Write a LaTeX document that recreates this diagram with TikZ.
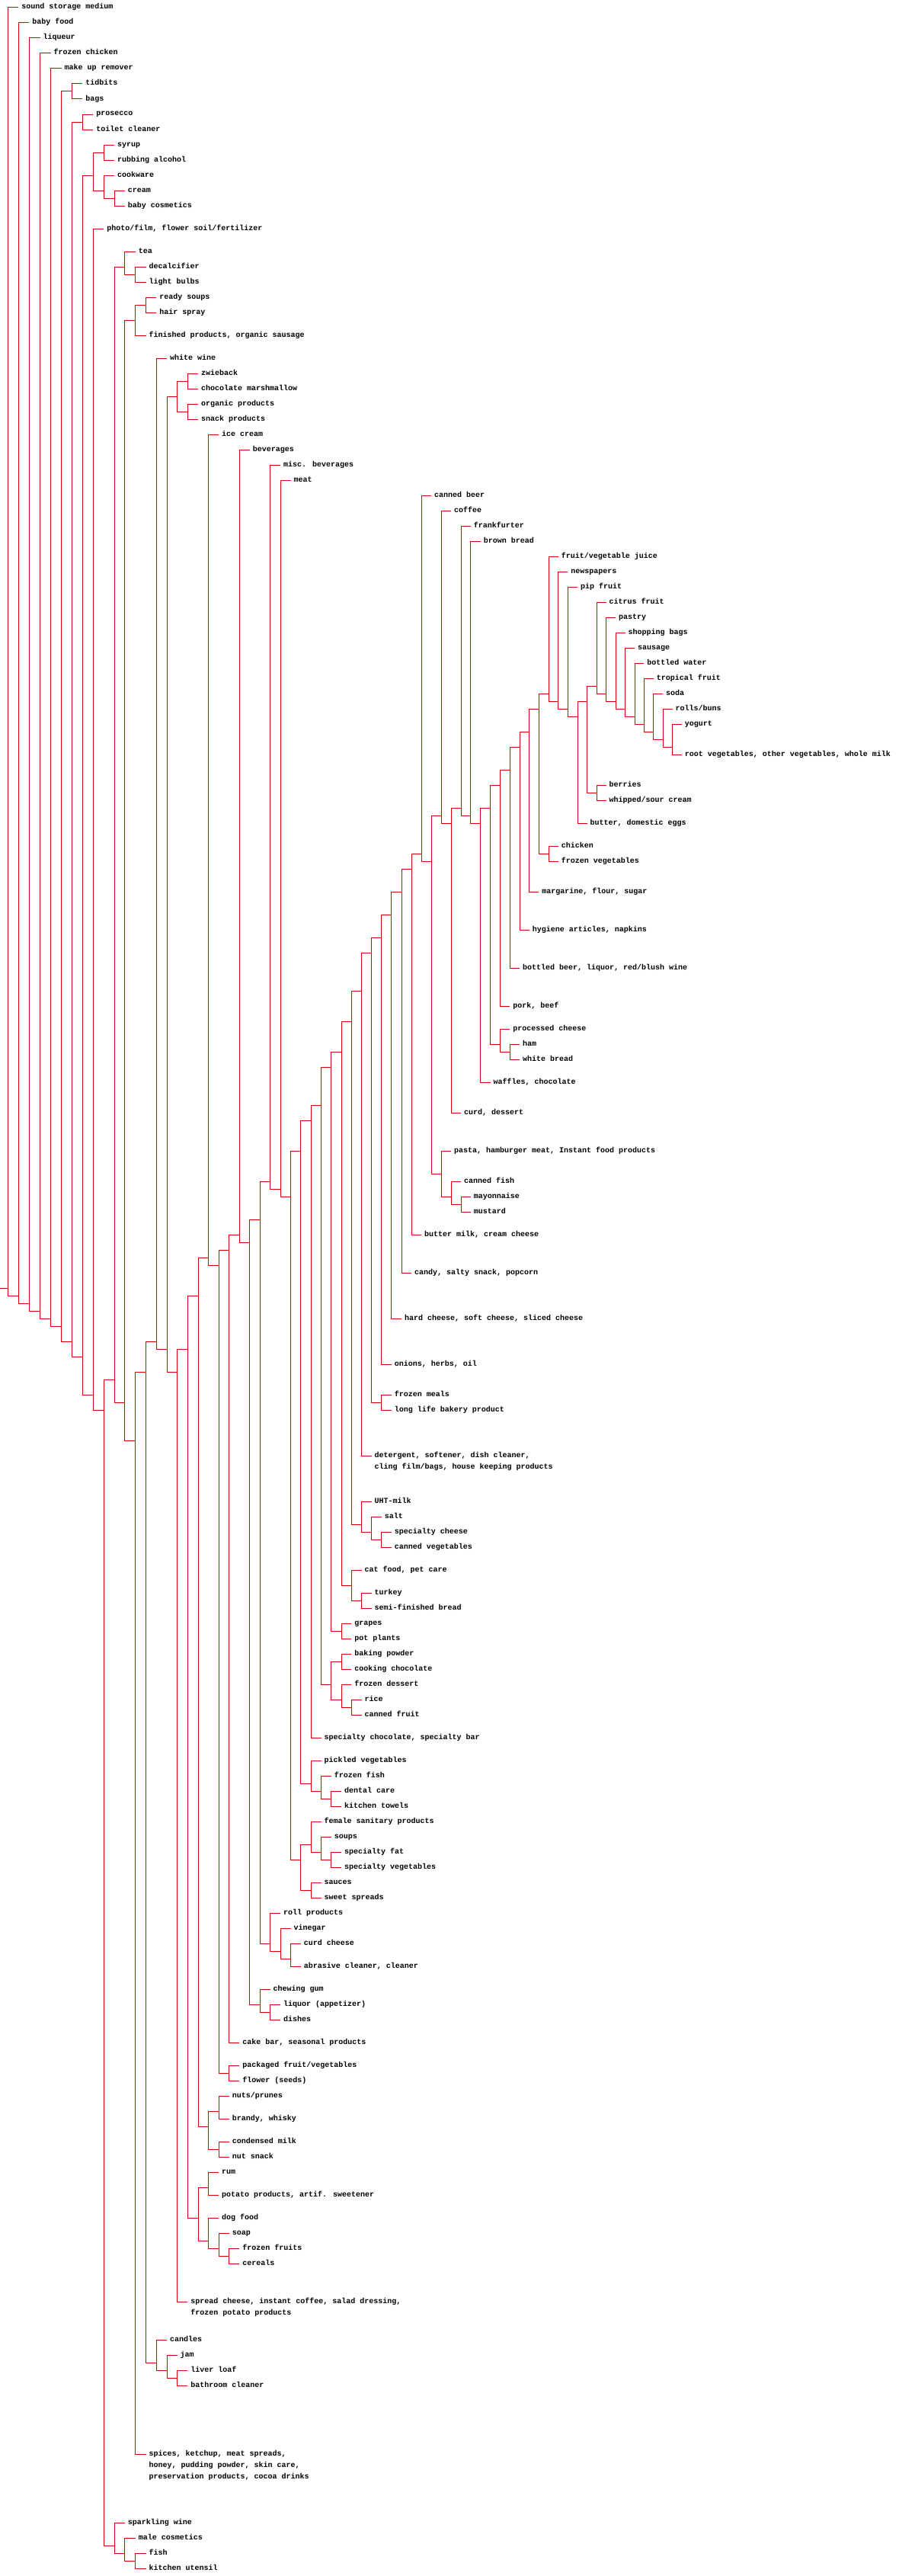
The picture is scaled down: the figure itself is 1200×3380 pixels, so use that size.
\documentclass[tikz,border=0pt]{standalone}
\usepackage{fontspec}
\newfontfamily\labfam{Liberation Mono}
\definecolor{linered}{RGB}{215,0,0}
\pgfmathdeclarefunction{dx}{1}{\pgfmathparse{10.3+14.12*#1-0.0137*#1*#1}}
\newcommand{\mkleaf}[4]{\coordinate (#1) at ({dx(#2)},-#3); \node[lab] (#1t) at ({dx(#2)+4},{-#3-2}) {#4};}
\newcommand{\mknode}[3]{\coordinate (#1) at ({dx(#2)},-#3);}
\newcommand{\mkedge}[3]{\draw[ln] (#1) |- (#2); \draw[ln] (#1) |- (#3);}
\tikzset{
  lab/.style={anchor=base west, inner sep=0pt, outer sep=0pt, text=black, font=\labfam\bfseries\fontsize{10pt}{15pt}\selectfont},
  ln/.style={draw=linered, line width=1pt}
}
\begin{document}
\begin{tikzpicture}[x=1pt,y=1pt]
\useasboundingbox (0,0) rectangle (1200,-3380);
\fill[white] (0,0) rectangle (1200,-3380);
% ---------------- leaves ----------------
\mkleaf{l1}{1}{10}{sound storage medium}
\mkleaf{l2}{2}{30}{baby food}
\mkleaf{l3}{3}{50}{liqueur}
\mkleaf{l4}{4}{70}{frozen chicken}
\mkleaf{l5}{5}{90}{make up remover}
\mkleaf{l6}{7}{110}{tidbits}
\mkleaf{l7}{7}{130}{bags}
\mkleaf{l8}{8}{150}{prosecco}
\mkleaf{l9}{8}{170}{toilet cleaner}
\mkleaf{l10}{10}{190}{syrup}
\mkleaf{l11}{10}{210}{rubbing alcohol}
\mkleaf{l12}{10}{230}{cookware}
\mkleaf{l13}{11}{250}{cream}
\mkleaf{l14}{11}{270}{baby cosmetics}
\mkleaf{l15}{9}{300}{photo/film, flower soil/fertilizer}
\mkleaf{l16}{12}{330}{tea}
\mkleaf{l17}{13}{350}{decalcifier}
\mkleaf{l18}{13}{370}{light bulbs}
\mkleaf{l19}{14}{390}{ready soups}
\mkleaf{l20}{14}{410}{hair spray}
\mkleaf{l21}{13}{440}{finished products, organic sausage}
\mkleaf{l22}{15}{470}{white wine}
\mkleaf{l23}{18}{490}{zwieback}
\mkleaf{l24}{18}{510}{chocolate marshmallow}
\mkleaf{l25}{18}{530}{organic products}
\mkleaf{l26}{18}{550}{snack products}
\mkleaf{l27}{20}{570}{ice cream}
\mkleaf{l28}{23}{590}{beverages}
\mkleaf{l29}{26}{610}{misc. beverages}
\mkleaf{l30}{27}{630}{meat}
\mkleaf{l31}{41}{650}{canned beer}
\mkleaf{l32}{43}{670}{coffee}
\mkleaf{l33}{45}{690}{frankfurter}
\mkleaf{l34}{46}{710}{brown bread}
\mkleaf{l35}{54}{730}{fruit/vegetable juice}
\mkleaf{l36}{55}{750}{newspapers}
\mkleaf{l37}{56}{770}{pip fruit}
\mkleaf{l38}{59}{790}{citrus fruit}
\mkleaf{l39}{60}{810}{pastry}
\mkleaf{l40}{61}{830}{shopping bags}
\mkleaf{l41}{62}{850}{sausage}
\mkleaf{l42}{63}{870}{bottled water}
\mkleaf{l43}{64}{890}{tropical fruit}
\mkleaf{l44}{65}{910}{soda}
\mkleaf{l45}{66}{930}{rolls/buns}
\mkleaf{l46}{67}{950}{yogurt}
\mkleaf{l47}{67}{990}{root vegetables, other vegetables, whole milk}
\mkleaf{l48}{59}{1030}{berries}
\mkleaf{l49}{59}{1050}{whipped/sour cream}
\mkleaf{l50}{57}{1080}{butter, domestic eggs}
\mkleaf{l51}{54}{1110}{chicken}
\mkleaf{l52}{54}{1130}{frozen vegetables}
\mkleaf{l53}{52}{1170}{margarine, flour, sugar}
\mkleaf{l54}{51}{1220}{hygiene articles, napkins}
\mkleaf{l55}{50}{1270}{bottled beer, liquor, red/blush wine}
\mkleaf{l56}{49}{1320}{pork, beef}
\mkleaf{l57}{49}{1350}{processed cheese}
\mkleaf{l58}{50}{1370}{ham}
\mkleaf{l59}{50}{1390}{white bread}
\mkleaf{l60}{47}{1420}{waffles, chocolate}
\mkleaf{l61}{44}{1460}{curd, dessert}
\mkleaf{l62}{43}{1510}{pasta, hamburger meat, Instant food products}
\mkleaf{l63}{44}{1550}{canned fish}
\mkleaf{l64}{45}{1570}{mayonnaise}
\mkleaf{l65}{45}{1590}{mustard}
\mkleaf{l66}{40}{1620}{butter milk, cream cheese}
\mkleaf{l67}{39}{1670}{candy, salty snack, popcorn}
\mkleaf{l68}{38}{1730}{hard cheese, soft cheese, sliced cheese}
\mkleaf{l69}{37}{1790}{onions, herbs, oil}
\mkleaf{l70}{37}{1830}{frozen meals}
\mkleaf{l71}{37}{1850}{long life bakery product}
\mkleaf{l72}{35}{1910}{detergent, softener, dish cleaner,}
\node[lab] (l72u) at ({dx(35)+4},-1927) {cling film/bags, house keeping products};
\mkleaf{l73}{35}{1970}{UHT-milk}
\mkleaf{l74}{36}{1990}{salt}
\mkleaf{l75}{37}{2010}{specialty cheese}
\mkleaf{l76}{37}{2030}{canned vegetables}
\mkleaf{l77}{34}{2060}{cat food, pet care}
\mkleaf{l78}{35}{2090}{turkey}
\mkleaf{l79}{35}{2110}{semi-finished bread}
\mkleaf{l80}{33}{2130}{grapes}
\mkleaf{l81}{33}{2150}{pot plants}
\mkleaf{l82}{33}{2170}{baking powder}
\mkleaf{l83}{33}{2190}{cooking chocolate}
\mkleaf{l84}{33}{2210}{frozen dessert}
\mkleaf{l85}{34}{2230}{rice}
\mkleaf{l86}{34}{2250}{canned fruit}
\mkleaf{l87}{30}{2280}{specialty chocolate, specialty bar}
\mkleaf{l88}{30}{2310}{pickled vegetables}
\mkleaf{l89}{31}{2330}{frozen fish}
\mkleaf{l90}{32}{2350}{dental care}
\mkleaf{l91}{32}{2370}{kitchen towels}
\mkleaf{l92}{30}{2390}{female sanitary products}
\mkleaf{l93}{31}{2410}{soups}
\mkleaf{l94}{32}{2430}{specialty fat}
\mkleaf{l95}{32}{2450}{specialty vegetables}
\mkleaf{l96}{30}{2470}{sauces}
\mkleaf{l97}{30}{2490}{sweet spreads}
\mkleaf{l98}{26}{2510}{roll products}
\mkleaf{l99}{27}{2530}{vinegar}
\mkleaf{l100}{28}{2550}{curd cheese}
\mkleaf{l101}{28}{2580}{abrasive cleaner, cleaner}
\mkleaf{l102}{25}{2610}{chewing gum}
\mkleaf{l103}{26}{2630}{liquor (appetizer)}
\mkleaf{l104}{26}{2650}{dishes}
\mkleaf{l105}{22}{2680}{cake bar, seasonal products}
\mkleaf{l106}{22}{2710}{packaged fruit/vegetables}
\mkleaf{l107}{22}{2730}{flower (seeds)}
\mkleaf{l108}{21}{2750}{nuts/prunes}
\mkleaf{l109}{21}{2780}{brandy, whisky}
\mkleaf{l110}{21}{2810}{condensed milk}
\mkleaf{l111}{21}{2830}{nut snack}
\mkleaf{l112}{20}{2850}{rum}
\mkleaf{l113}{20}{2880}{potato products, artif. sweetener}
\mkleaf{l114}{20}{2910}{dog food}
\mkleaf{l115}{21}{2930}{soap}
\mkleaf{l116}{22}{2950}{frozen fruits}
\mkleaf{l117}{22}{2970}{cereals}
\mkleaf{l118}{17}{3020}{spread cheese, instant coffee, salad dressing,}
\node[lab] (l118u) at ({dx(17)+4},-3037) {frozen potato products};
\mkleaf{l119}{15}{3070}{candles}
\mkleaf{l120}{16}{3090}{jam}
\mkleaf{l121}{17}{3110}{liver loaf}
\mkleaf{l122}{17}{3130}{bathroom cleaner}
\mkleaf{l123}{13}{3220}{spices, ketchup, meat spreads,}
\node[lab] (l123u) at ({dx(13)+4},-3237) {honey, pudding powder, skin care,};
\node[lab] (l123v) at ({dx(13)+4},-3252) {preservation products, cocoa drinks};
\mkleaf{l124}{11}{3310}{sparkling wine}
\mkleaf{l125}{12}{3330}{male cosmetics}
\mkleaf{l126}{13}{3350}{fish}
\mkleaf{l127}{13}{3370}{kitchen utensil}
% ---------------- internal nodes ----------------
\coordinate (stub) at (0,-1690);
\mknode{R}{0}{1690}
\mknode{A1}{1}{1700}
\mknode{A2}{2}{1710}
\mknode{A3}{3}{1720}
\mknode{A4}{4}{1730}
\mknode{A5}{5}{1740}
\mknode{B1}{6}{120}
\mknode{A6}{6}{1760}
\mknode{B2}{7}{160}
\mknode{A7}{7}{1780}
\mknode{B3}{8}{230}
\mknode{B3a}{9}{200}
\mknode{B3b}{9}{250}
\mknode{B3c}{10}{260}
\mknode{A8}{8}{1830}
\mknode{A9}{9}{1850}
\mknode{A10}{10}{1810}
\mknode{C1}{11}{350}
\mknode{C1b}{12}{360}
\mknode{A11}{11}{1840}
\mknode{C2}{12}{420}
\mknode{C2a}{13}{400}
\mknode{N176}{12}{1890}
\mknode{N190}{13}{1800}
\mknode{W14}{14}{1760}
\mknode{W15}{15}{1770}
\mknode{D1}{16}{520}
\mknode{DZ}{17}{500}
\mknode{DO}{17}{540}
\mknode{N231}{16}{1800}
\mknode{N245}{17}{1770}
\mknode{N258}{18}{1700}
\mknode{N272}{19}{1650}
\mknode{N286}{20}{1660}
\mknode{N299}{21}{1640}
\mknode{N313}{22}{1620}
\mknode{N327}{23}{1630}
\mknode{N340}{24}{1600}
\mknode{N354}{25}{1550}
\mknode{N367}{26}{1560}
\mknode{N381}{27}{1570}
\mknode{N394}{28}{1510}
\mknode{N408}{29}{1470}
\mknode{N421}{30}{1450}
\mknode{N435}{31}{1400}
\mknode{N448}{32}{1380}
\mknode{N461}{33}{1340}
\mknode{N474}{34}{1300}
\mknode{N488}{35}{1250}
\mknode{N501}{36}{1230}
\mknode{N514}{37}{1200}
\mknode{N527}{38}{1170}
\mknode{N540}{39}{1140}
\mknode{N553}{40}{1120}
\mknode{N566}{41}{1130}
\mknode{N579}{42}{1070}
\mknode{N592}{43}{1080}
\mknode{N605}{44}{1060}
\mknode{N618}{45}{1070}
\mknode{N631}{46}{1080}
\mknode{N644}{47}{1060}
\mknode{N657}{48}{1030}
\mknode{N670}{49}{1010}
\mknode{N682}{50}{980}
\mknode{N694}{51}{960}
\mknode{N707}{52}{930}
\mknode{N720}{53}{910}
\mknode{N733}{54}{920}
\mknode{N746}{55}{930}
\mknode{N759}{56}{940}
\mknode{N771}{57}{920}
\mknode{N784}{58}{900}
\mknode{N796}{59}{910}
\mknode{N809}{60}{920}
\mknode{N821}{61}{930}
\mknode{N835}{62}{940}
\mknode{N847}{63}{950}
\mknode{N859}{64}{960}
\mknode{N871}{65}{970}
\mknode{N882}{66}{980}
\mknode{BE}{58}{1040}
\mknode{CF}{53}{1120}
\mknode{PC}{48}{1370}
\mknode{HW}{49}{1380}
\mknode{P}{42}{1540}
\mknode{P2}{43}{1570}
\mknode{P3}{44}{1580}
\mknode{FM}{36}{1840}
\mknode{U}{34}{2000}
\mknode{U2}{35}{2010}
\mknode{U3}{36}{2020}
\mknode{K}{33}{2080}
\mknode{K2}{34}{2100}
\mknode{GP}{32}{2140}
\mknode{BK}{31}{2210}
\mknode{BK1}{32}{2180}
\mknode{BK2}{32}{2230}
\mknode{BK3}{33}{2240}
\mknode{PV}{29}{2340}
\mknode{PV2}{30}{2350}
\mknode{PV3}{31}{2360}
\mknode{S}{28}{2440}
\mknode{S1}{29}{2420}
\mknode{S2}{30}{2430}
\mknode{S3}{31}{2440}
\mknode{S4}{29}{2480}
\mknode{RP}{25}{2550}
\mknode{RP2}{26}{2560}
\mknode{RP3}{27}{2570}
\mknode{CG}{24}{2630}
\mknode{CG2}{25}{2640}
\mknode{PF}{21}{2720}
\mknode{NB}{19}{2790}
\mknode{NP}{20}{2770}
\mknode{CM}{20}{2820}
\mknode{RD}{18}{2910}
\mknode{RPo}{19}{2870}
\mknode{DF}{19}{2940}
\mknode{DF2}{20}{2950}
\mknode{DF3}{21}{2960}
\mknode{CJ}{14}{3100}
\mknode{JL}{15}{3110}
\mknode{LB}{16}{3120}
\mknode{SW}{10}{3340}
\mknode{SW2}{11}{3350}
\mknode{SW3}{12}{3360}
% ---------------- connectors ----------------
\draw[ln] (stub) -- (R);
\mkedge{R}{l1}{A1}
\mkedge{A1}{l2}{A2}
\mkedge{A2}{l3}{A3}
\mkedge{A3}{l4}{A4}
\mkedge{A4}{l5}{A5}
\mkedge{A5}{B1}{A6}
\mkedge{B1}{l6}{l7}
\mkedge{A6}{B2}{A7}
\mkedge{B2}{l8}{l9}
\mkedge{A7}{B3}{A8}
\mkedge{B3}{B3a}{B3b}
\mkedge{B3a}{l10}{l11}
\mkedge{B3b}{l12}{B3c}
\mkedge{B3c}{l13}{l14}
\mkedge{A8}{l15}{A9}
\mkedge{A9}{A10}{SW}
\mkedge{A10}{C1}{A11}
\mkedge{C1}{l16}{C1b}
\mkedge{C1b}{l17}{l18}
\mkedge{A11}{C2}{N176}
\mkedge{C2}{C2a}{l21}
\mkedge{C2a}{l19}{l20}
\mkedge{N176}{N190}{l123}
\mkedge{N190}{W14}{CJ}
\mkedge{W14}{l22}{W15}
\mkedge{W15}{D1}{N231}
\mkedge{D1}{DZ}{DO}
\mkedge{DZ}{l23}{l24}
\mkedge{DO}{l25}{l26}
\mkedge{N231}{N245}{l118}
\mkedge{N245}{N258}{RD}
\mkedge{N258}{N272}{NB}
\mkedge{N272}{l27}{N286}
\mkedge{N286}{N299}{PF}
\mkedge{N299}{N313}{l105}
\mkedge{N313}{l28}{N327}
\mkedge{N327}{N340}{CG}
\mkedge{N340}{N354}{RP}
\mkedge{N354}{l29}{N367}
\mkedge{N367}{l30}{N381}
\mkedge{N381}{N394}{S}
\mkedge{N394}{N408}{PV}
\mkedge{N408}{N421}{l87}
\mkedge{N421}{N435}{BK}
\mkedge{N435}{N448}{GP}
\mkedge{N448}{N461}{K}
\mkedge{N461}{N474}{U}
\mkedge{N474}{N488}{l72}
\mkedge{N488}{N501}{FM}
\mkedge{N501}{N514}{l69}
\mkedge{N514}{N527}{l68}
\mkedge{N527}{N540}{l67}
\mkedge{N540}{N553}{l66}
\mkedge{N553}{l31}{N566}
\mkedge{N566}{N579}{P}
\mkedge{N579}{l32}{N592}
\mkedge{N592}{N605}{l61}
\mkedge{N605}{l33}{N618}
\mkedge{N618}{l34}{N631}
\mkedge{N631}{N644}{l60}
\mkedge{N644}{N657}{PC}
\mkedge{N657}{N670}{l56}
\mkedge{N670}{N682}{l55}
\mkedge{N682}{N694}{l54}
\mkedge{N694}{N707}{l53}
\mkedge{N707}{N720}{CF}
\mkedge{N720}{l35}{N733}
\mkedge{N733}{l36}{N746}
\mkedge{N746}{l37}{N759}
\mkedge{N759}{N771}{l50}
\mkedge{N771}{N784}{BE}
\mkedge{N784}{l38}{N796}
\mkedge{N796}{l39}{N809}
\mkedge{N809}{l40}{N821}
\mkedge{N821}{l41}{N835}
\mkedge{N835}{l42}{N847}
\mkedge{N847}{l43}{N859}
\mkedge{N859}{l44}{N871}
\mkedge{N871}{l45}{N882}
\mkedge{N882}{l46}{l47}
\mkedge{BE}{l48}{l49}
\mkedge{CF}{l51}{l52}
\mkedge{PC}{l57}{HW}
\mkedge{HW}{l58}{l59}
\mkedge{P}{l62}{P2}
\mkedge{P2}{l63}{P3}
\mkedge{P3}{l64}{l65}
\mkedge{FM}{l70}{l71}
\mkedge{U}{l73}{U2}
\mkedge{U2}{l74}{U3}
\mkedge{U3}{l75}{l76}
\mkedge{K}{l77}{K2}
\mkedge{K2}{l78}{l79}
\mkedge{GP}{l80}{l81}
\mkedge{BK}{BK1}{BK2}
\mkedge{BK1}{l82}{l83}
\mkedge{BK2}{l84}{BK3}
\mkedge{BK3}{l85}{l86}
\mkedge{PV}{l88}{PV2}
\mkedge{PV2}{l89}{PV3}
\mkedge{PV3}{l90}{l91}
\mkedge{S}{S1}{S4}
\mkedge{S1}{l92}{S2}
\mkedge{S2}{l93}{S3}
\mkedge{S3}{l94}{l95}
\mkedge{S4}{l96}{l97}
\mkedge{RP}{l98}{RP2}
\mkedge{RP2}{l99}{RP3}
\mkedge{RP3}{l100}{l101}
\mkedge{CG}{l102}{CG2}
\mkedge{CG2}{l103}{l104}
\mkedge{PF}{l106}{l107}
\mkedge{NB}{NP}{CM}
\mkedge{NP}{l108}{l109}
\mkedge{CM}{l110}{l111}
\mkedge{RD}{RPo}{DF}
\mkedge{RPo}{l112}{l113}
\mkedge{DF}{l114}{DF2}
\mkedge{DF2}{l115}{DF3}
\mkedge{DF3}{l116}{l117}
\mkedge{CJ}{l119}{JL}
\mkedge{JL}{l120}{LB}
\mkedge{LB}{l121}{l122}
\mkedge{SW}{l124}{SW2}
\mkedge{SW2}{l125}{SW3}
\mkedge{SW3}{l126}{l127}
\end{tikzpicture}
\end{document}
